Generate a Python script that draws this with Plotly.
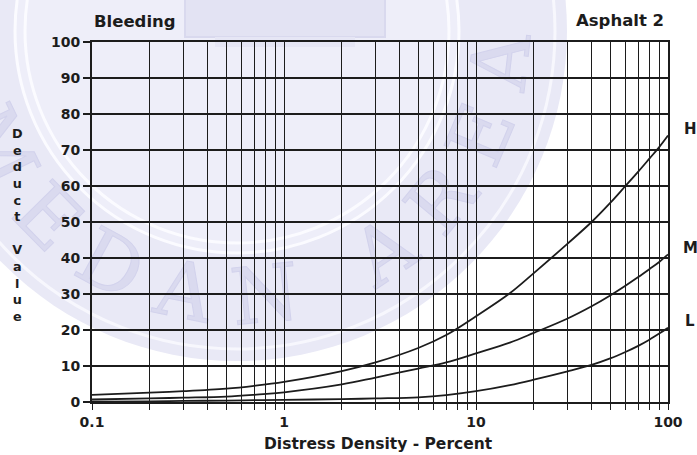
import math
import base64
import plotly.graph_objects as go

# Deduct value curves for bleeding (asphalt), by severity level
density = [0.1, 0.2, 0.3, 0.5, 0.7, 1, 2, 3, 5, 7, 10, 15, 20, 30, 40, 50, 60, 70, 80, 90, 100]
deduct_high = [2.0, 2.6, 3.0, 3.7, 4.5, 5.6, 8.6, 11.0, 15.0, 18.6, 23.8, 30.2, 35.8, 44.0, 50.0, 55.3, 60.0, 64.0, 67.6, 70.8, 74.0]
deduct_medium = [0.7, 1.0, 1.2, 1.5, 2.0, 2.7, 4.9, 6.8, 9.3, 11.0, 13.5, 16.5, 19.2, 23.2, 26.6, 29.6, 32.3, 34.7, 36.9, 38.9, 41.0]
deduct_low = [0.1, 0.2, 0.3, 0.4, 0.5, 0.6, 0.8, 1.0, 1.3, 1.9, 3.0, 4.7, 6.2, 8.5, 10.3, 12.1, 13.9, 15.6, 17.3, 19.0, 20.6]
severity_labels = ["H", "M", "L"]

x_tick_vals = [m * 10 ** e for e in (-1, 0, 1) for m in range(1, 10)] + [100]
x_tick_text = ["0.1" if v == 0.1 else "1" if v == 1 else "10" if v == 10 else "100" if v == 100 else "" for v in x_tick_vals]
y_tick_vals = list(range(0, 101, 10))

W, H = 697, 455
L_M, R_M, T_M, B_M = 92, 29, 42, 53
PW, PH = W - L_M - R_M, H - T_M - B_M

def px_to_paper(px, py):
    return (px - L_M) / PW, (H - B_M - py) / PH

INK = "#1c1c1c"
FONT = "DejaVu Sans"

fig = go.Figure()
for ys in (deduct_high, deduct_medium, deduct_low):
    fig.add_trace(go.Scatter(
        x=density, y=ys, mode="lines",
        line=dict(color=INK, width=1.8, shape="spline", smoothing=1.0),
        showlegend=False, hoverinfo="skip",
    ))

# faint university seal printed behind the chart, as an inline SVG
cx, cy = 237, 31
r_txt = 292
a0, a1 = math.radians(162), math.radians(-10)
sx, sy = cx + r_txt * math.cos(a0), cy + r_txt * math.sin(a0)
ex, ey = cx + r_txt * math.cos(a1), cy + r_txt * math.sin(a1)
seal_svg = f'''<svg xmlns="http://www.w3.org/2000/svg" xmlns:xlink="http://www.w3.org/1999/xlink" width="{W}" height="{H}" viewBox="0 0 {W} {H}">
<circle cx="{cx}" cy="{cy}" r="330" fill="#e9e9f6"/>
<circle cx="{cx}" cy="{cy}" r="318" fill="none" stroke="#f7f7fd" stroke-width="3"/>
<circle cx="{cx}" cy="{cy}" r="222" fill="#eeeef9" stroke="#fbfbff" stroke-width="3"/>
<circle cx="{cx}" cy="{cy}" r="212" fill="none" stroke="#fbfbff" stroke-width="3"/>
<rect x="185" y="-5" width="200" height="42" fill="#e3e3f3" stroke="#d9d9ee" stroke-width="2"/>
<rect x="215" y="37" width="140" height="10" fill="#e6e6f5"/>
<path id="ring" d="M {sx:.1f} {sy:.1f} A {r_txt} {r_txt} 0 0 0 {ex:.1f} {ey:.1f}" fill="none"/>
<text font-family="DejaVu Serif" font-size="78" fill="#dadaef" stroke="#d2d2ec" stroke-width="1">
<textPath href="#ring" xlink:href="#ring" textLength="820" lengthAdjust="spacing">MEDAN AREA</textPath>
</text>
</svg>'''
seal_uri = "data:image/svg+xml;base64," + base64.b64encode(seal_svg.encode()).decode()

img_x, img_y = px_to_paper(0, 0)
fig.add_layout_image(dict(source=seal_uri, xref="paper", yref="paper", x=img_x, y=img_y,
                          sizex=W / PW, sizey=H / PH, xanchor="left", yanchor="top",
                          sizing="stretch", layer="below"))

annotations = []

# titles and axis captions
def note(text, px, py, size, xanchor="center"):
    ax, ay = px_to_paper(px, py)
    annotations.append(dict(text=text, x=ax, y=ay, xref="paper", yref="paper", showarrow=False,
                            xanchor=xanchor, yanchor="middle",
                            font=dict(family=FONT, size=size, color=INK, weight="bold")))

note("Bleeding", 92, 22, 16.5, xanchor="left")
note("Asphalt 2", 666, 20, 16.5, xanchor="right")
note("Distress Density - Percent", 378, 444, 15.5)
note("<br>".join(list("Deduct") + [""] + list("Value")), 17, 225, 12.8)

# severity labels next to the curve ends
for lab, ys in zip(severity_labels, (deduct_high, deduct_medium, deduct_low)):
    annotations.append(dict(text=lab, x=(690 - L_M) / PW, xref="paper", y=ys[-1] + 1.8, yref="y",
                            showarrow=False, xanchor="center", yanchor="middle",
                            font=dict(family=FONT, size=15, color=INK, weight="bold")))

fig.update_layout(
    width=W, height=H,
    margin=dict(l=L_M, r=R_M, t=T_M, b=B_M),
    paper_bgcolor="white", plot_bgcolor="rgba(0,0,0,0)",
    annotations=annotations,
    xaxis=dict(type="log", range=[-1, 2], tickvals=x_tick_vals, ticktext=x_tick_text,
               showgrid=True, gridcolor=INK, gridwidth=1.3, zeroline=False,
               showline=True, linecolor=INK, linewidth=1.5, mirror=True,
               ticks="outside", ticklen=6, tickwidth=1.3, tickcolor=INK,
               tickfont=dict(family=FONT, size=14, color=INK, weight="bold")),
    yaxis=dict(range=[0, 100], tickvals=y_tick_vals,
               showgrid=True, gridcolor=INK, gridwidth=2, zeroline=False,
               showline=True, linecolor=INK, linewidth=2, mirror=True,
               ticks="outside", ticklen=7, tickwidth=2, tickcolor=INK,
               tickfont=dict(family=FONT, size=14, color=INK, weight="bold")),
)

fig.write_html("out.html")
